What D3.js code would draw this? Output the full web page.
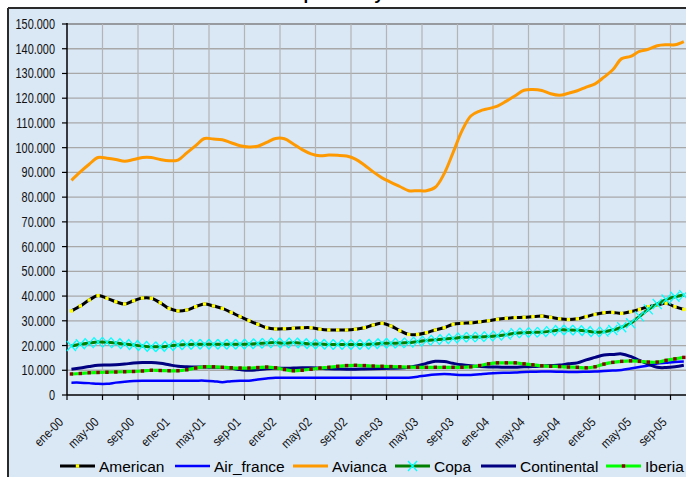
<!DOCTYPE html>
<html><head><meta charset="utf-8">
<script src="https://cdn.jsdelivr.net/npm/d3@7"></script>
<style>
html,body{margin:0;padding:0;background:#fff;}
svg{display:block;font-family:"Liberation Sans",Arial,sans-serif;}
</style></head><body>
<svg id="chart" width="686" height="477"></svg>
<script>
// ---- data (values in thousands) ----
const monthAbbr = ["ene","feb","mar","abr","may","jun","jul","ago","sep","oct","nov","dic"];
const years = ["00","01","02","03","04","05"];
const categories = [];
years.forEach(y => monthAbbr.forEach(m => categories.push(m + "-" + y)));
const xTickLabels = ["ene-00","may-00","sep-00","ene-01","may-01","sep-01","ene-02","may-02","sep-02",
  "ene-03","may-03","sep-03","ene-04","may-04","sep-04","ene-05","may-05","sep-05"];
const yTicks = [0,10,20,30,40,50,60,70,80,90,100,110,120,130,140,150];
const yTickLabels = ["0","10.000","20.000","30.000","40.000","50.000","60.000","70.000","80.000","90.000",
  "100.000","110.000","120.000","130.000","140.000","150.000"];
const seriesNames = ["American","Air_france","Avianca","Copa","Continental","Iberia"];

const american = [34.0,36.0,38.4,40.2,39.1,37.7,36.8,38.1,39.2,39.1,37.3,35.0,34.0,34.4,35.7,36.8,36.0,35.0,33.4,31.7,30.1,28.6,27.2,26.7,
  26.8,27.0,27.2,27.2,26.6,26.3,26.3,26.3,26.6,27.2,28.3,29.0,27.9,26.0,24.5,24.5,25.2,26.3,27.2,28.6,29.0,29.2,
  29.6,30.0,30.6,31.0,31.3,31.4,31.7,31.9,31.4,30.8,30.5,30.8,31.7,32.6,33.3,33.4,33.0,33.7,34.6,35.7,36.4,37.1,35.7,34.6];
const airFrance = [5.0,5.0,4.8,4.5,4.5,5.0,5.4,5.7,5.8,5.8,5.8,5.8,5.8,5.8,5.8,5.8,5.6,5.2,5.6,5.8,5.8,6.3,6.7,7.0,
  7.0,7.0,7.0,7.0,7.0,7.0,7.0,7.0,7.0,7.0,7.0,7.0,7.0,7.0,7.0,7.4,7.9,8.3,8.5,8.3,8.1,8.1,
  8.4,8.7,8.9,9.0,9.1,9.3,9.4,9.5,9.5,9.4,9.3,9.3,9.4,9.5,9.7,9.9,10.1,10.7,11.3,11.9,12.7,13.0,13.3,13.5];
const avianca = [86.8,90.2,93.3,96.0,95.7,95.2,94.5,95.2,96.0,96.0,95.2,94.7,95.0,97.9,100.8,103.7,103.5,103.2,102.0,100.8,100.3,100.6,102.1,103.7,
  103.6,101.5,99.2,97.5,96.7,97.0,96.9,96.6,95.4,93.0,90.2,87.8,86.0,84.3,82.6,82.6,82.6,84.0,89.5,98.0,106.8,112.8,
  114.8,115.8,116.8,118.8,121.0,123.2,123.5,123.1,121.8,121.2,122.0,123.0,124.5,125.8,128.5,131.5,136.0,136.9,138.9,139.8,141.2,141.6,141.6,142.9];
const copa = [19.8,20.5,21.0,21.4,21.3,21.0,20.6,20.2,19.8,19.5,19.5,19.8,20.2,20.4,20.5,20.5,20.5,20.5,20.5,20.5,20.6,20.8,21.0,21.2,
  20.9,21.2,20.9,20.6,20.6,20.4,20.4,20.4,20.4,20.4,20.6,20.9,20.9,21.0,21.2,21.6,22.0,22.3,22.6,22.9,23.3,23.4,
  23.5,23.7,24.0,24.4,25.0,25.2,25.3,25.4,25.8,26.3,26.3,26.2,25.9,25.4,25.6,26.3,27.4,29.0,31.8,34.6,36.8,38.6,39.7,40.4];
const continental = [10.4,10.9,11.5,12.0,12.1,12.2,12.5,12.9,13.1,13.1,12.8,12.2,11.6,11.4,11.3,11.3,11.2,11.1,10.8,10.3,10.0,10.2,10.6,10.8,
  10.8,10.9,11.0,11.0,10.8,10.6,10.5,10.4,10.4,10.5,10.6,10.7,10.8,10.9,11.2,11.8,12.8,13.6,13.5,12.8,12.2,11.8,
  11.5,11.3,11.3,11.2,11.2,11.4,11.5,11.7,11.9,12.1,12.6,13.0,14.2,15.2,16.2,16.4,16.6,15.6,14.0,12.5,11.2,11.1,11.4,12.0];
const iberia = [8.5,8.7,9.0,9.1,9.2,9.3,9.4,9.5,9.7,10.0,9.9,9.8,9.8,10.2,10.9,11.4,11.4,11.2,11.0,10.9,10.9,11.1,11.3,11.0,
  10.3,9.8,10.0,10.4,10.9,11.2,11.6,11.9,12.0,11.9,11.7,11.6,11.5,11.4,11.3,11.2,11.2,11.2,11.2,11.2,11.2,11.4,
  11.9,12.6,13.0,13.0,13.0,12.6,12.2,11.8,11.6,11.5,11.3,11.2,11.0,11.4,12.5,13.2,13.6,13.8,13.6,13.3,13.3,14.0,14.6,15.2];

// ---- styles ----
const styles = [
  {values: american,    color:"#000000", width:3,   marker:"square", mcolor:"#ffff00"},
  {values: airFrance,   color:"#0000ff", width:2.5},
  {values: avianca,     color:"#ff9900", width:3},
  {values: copa,        color:"#008000", width:3,   marker:"x", mcolor:"#00ffff"},
  {values: continental, color:"#000080", width:3},
  {values: iberia,      color:"#00ff00", width:3.2, marker:"square", mcolor:"#8b0000"}
];
const legendX = [60, 175, 293, 395, 481, 606];

const svg = d3.select("#chart");
const W = 686, H = 477;
const pLeft = 67, pTop = 24, pBottom = 395, pRight = 706;

// frame
svg.append("rect").attr("x",8).attr("y",8).attr("width",W).attr("height",H).attr("fill","#dae7f5");
svg.append("line").attr("x1",8).attr("x2",W).attr("y1",8).attr("y2",8).attr("stroke","#2a2a2a").attr("stroke-width",2);
svg.append("line").attr("x1",8).attr("x2",8).attr("y1",8).attr("y2",H).attr("stroke","#2a2a2a").attr("stroke-width",2);

// clipped title (only its descenders lie inside the picture, as in the reference)
svg.append("text").attr("x",243).attr("y",0).attr("font-size",17).attr("font-weight","bold")
  .attr("fill","#000").text("Tráfico por mes y aerolínea");

const x = d3.scaleBand().domain(categories).range([pLeft, pRight]).paddingInner(0).paddingOuter(0);
const y = d3.scaleLinear().domain([0,150]).range([pBottom, pTop]);
const cx = i => x(categories[i]) + x.bandwidth()/2;

// gridlines
const g = svg.append("g");
g.selectAll("line").data(yTicks.filter(d=>d>0)).join("line")
  .attr("x1",pLeft).attr("x2",pRight).attr("y1",d=>y(d)).attr("y2",d=>y(d))
  .attr("stroke",d=>d===150?"#808080":"#a8a8a8").attr("stroke-width",1.3);
const g2 = svg.append("g");
g2.selectAll("line").data(xTickLabels.slice(1)).join("line")
  .attr("x1",d=>x(d)).attr("x2",d=>x(d)).attr("y1",pTop).attr("y2",pBottom)
  .attr("stroke","#b4b4b4").attr("stroke-width",1.2);

// axes
const ya = svg.append("g");
ya.append("line").attr("x1",pLeft).attr("x2",pLeft).attr("y1",pTop-1).attr("y2",pBottom).attr("stroke","#000").attr("stroke-width",1.5);
ya.append("g").selectAll("line").data(yTicks).join("line").attr("x1",pLeft-5).attr("x2",pLeft).attr("y1",d=>y(d)).attr("y2",d=>y(d)).attr("stroke","#000").attr("stroke-width",1.2);
ya.append("g").selectAll("text").data(yTicks).join("text")
  .attr("transform",d=>`translate(55,${y(d)+5}) scale(0.78,1)`)
  .attr("text-anchor","end").attr("font-size",14).attr("fill","#111")
  .text((d,i)=>yTickLabels[i]);

const xa = svg.append("g");
xa.append("line").attr("x1",pLeft).attr("x2",pRight).attr("y1",pBottom).attr("y2",pBottom).attr("stroke","#000").attr("stroke-width",1.5);
xa.append("g").selectAll("line").data(xTickLabels).join("line").attr("x1",d=>x(d)).attr("x2",d=>x(d)).attr("y1",pBottom).attr("y2",pBottom+5).attr("stroke","#000").attr("stroke-width",1.2);
xa.append("g").selectAll("text").data(xTickLabels).join("text")
  .attr("transform",d=>`translate(${x(d)-3},${pBottom+28}) rotate(-45) scale(0.85,1)`)
  .attr("text-anchor","end").attr("font-size",13).attr("fill","#111").text(d=>d);

// series
const line = d3.line().x((d,i)=>cx(i)).y(d=>y(d)).curve(d3.curveCatmullRom.alpha(0.5));
const xPath = "M-4.5,-5L4.5,5M-4.5,5L4.5,-5";
styles.forEach(s => {
  svg.append("path").datum(s.values).attr("d",line).attr("fill","none")
    .attr("stroke",s.color).attr("stroke-width",s.width).attr("stroke-linejoin","round");
  if (s.marker === "square") {
    svg.append("g").selectAll("rect").data(s.values).join("rect")
      .attr("x",(d,i)=>cx(i)-1.7).attr("y",d=>y(d)-1.7).attr("width",3.4).attr("height",3.4).attr("fill",s.mcolor);
  } else if (s.marker === "x") {
    svg.append("g").selectAll("path").data(s.values).join("path")
      .attr("transform",(d,i)=>`translate(${cx(i)},${y(d)})`).attr("d",xPath)
      .attr("stroke",s.mcolor).attr("stroke-width",1.3).attr("fill","none");
  }
});

// legend
const leg = svg.append("g");
const ly = 466;
seriesNames.forEach((name,k) => {
  const s = styles[k], lx = legendX[k];
  leg.append("line").attr("x1",lx).attr("x2",lx+35).attr("y1",ly).attr("y2",ly).attr("stroke",s.color).attr("stroke-width",s.width);
  if (s.marker === "square") leg.append("rect").attr("x",lx+17.5-1.7).attr("y",ly-1.7).attr("width",3.4).attr("height",3.4).attr("fill",s.mcolor);
  if (s.marker === "x") leg.append("path").attr("transform",`translate(${lx+17.5},${ly})`).attr("d",xPath).attr("stroke",s.mcolor).attr("stroke-width",1.3);
  leg.append("text").attr("x",lx+39).attr("y",ly+5.5).attr("font-size",15.5).attr("fill","#000").text(name);
});
</script>
</body></html>
